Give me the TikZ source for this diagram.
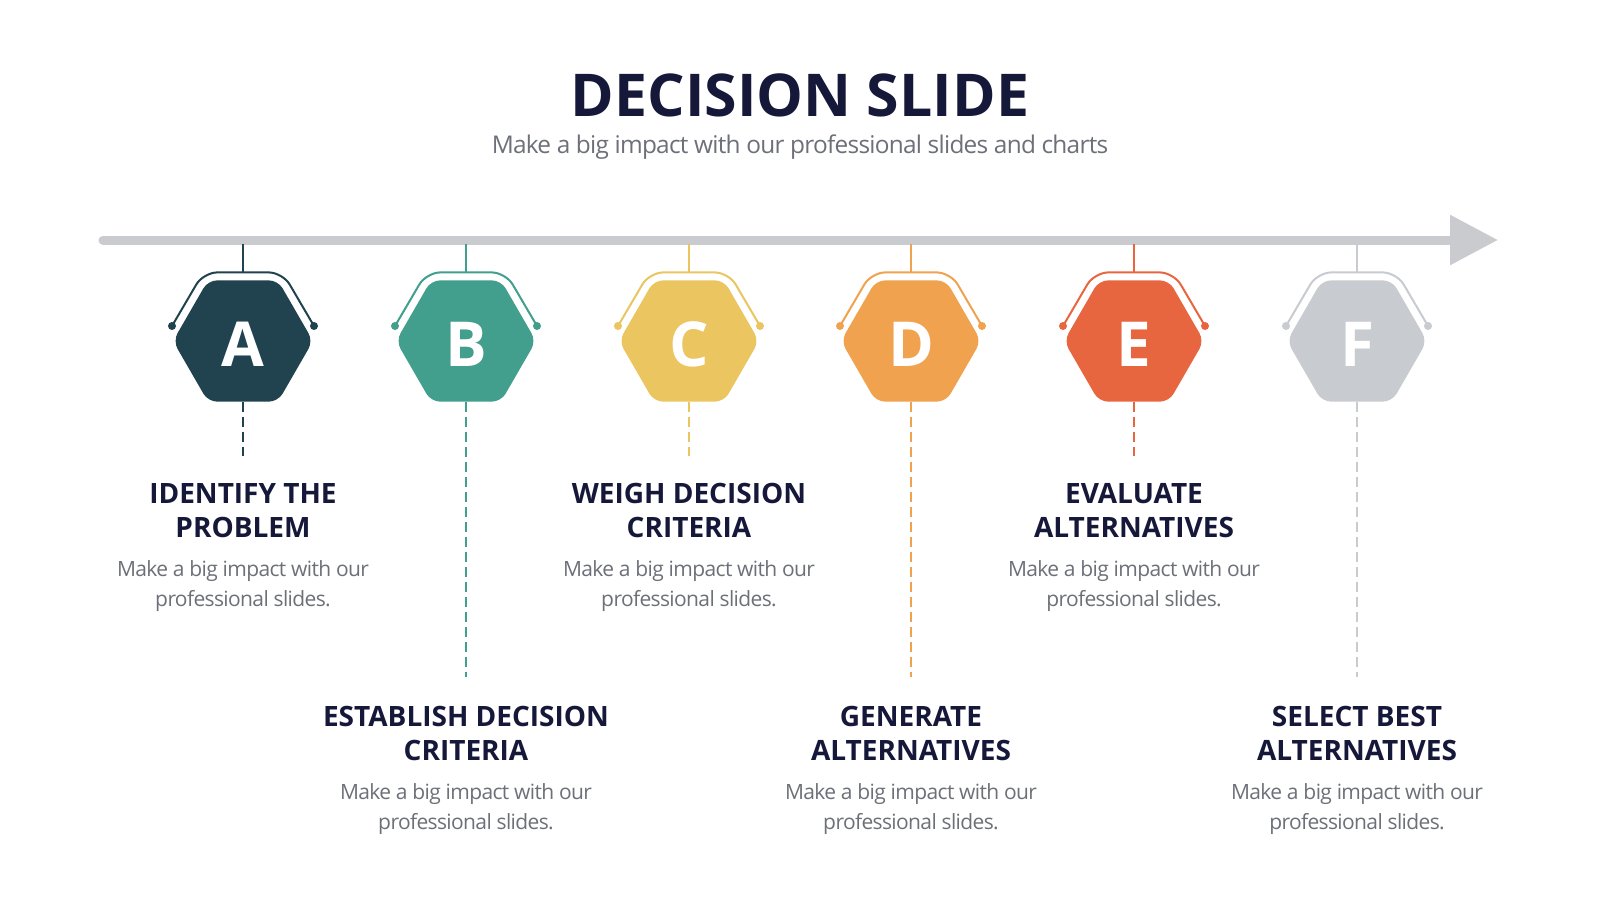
\documentclass[tikz,border=0pt]{standalone}
\usepackage{fontspec}
\setmainfont{Open Sans}
\newfontfamily\tightfont{Open Sans}[LetterSpace=-3]
\usetikzlibrary{shapes.geometric,calc,arrows.meta}

\definecolor{navy}{HTML}{16183A}
\definecolor{greytext}{HTML}{6E7079}
\definecolor{axisgrey}{HTML}{C9CBCE}
\definecolor{colA}{HTML}{21424F}
\definecolor{colB}{HTML}{429E8D}
\definecolor{colC}{HTML}{EAC560}
\definecolor{colD}{HTML}{F0A24F}
\definecolor{colE}{HTML}{E8663F}
\definecolor{colF}{HTML}{C8CBCF}

\tikzset{
  hexa/.style={regular polygon, regular polygon sides=6, minimum size=140pt,
    inner sep=0pt, outer sep=0pt, rounded corners=9pt, fill=#1, text=white,
    text height=50pt, text depth=0pt,
    font=\bfseries\fontsize{62}{62}\selectfont},
  handle/.style={draw=#1, line width=2pt, rounded corners=14pt},
  stem/.style={draw=#1, line width=1.6pt},
  dashstem/.style={draw=#1, line width=1.6pt, dash pattern=on 10pt off 5pt},
  steptitle/.style={text=navy, font=\bfseries\fontsize{28}{34}\selectfont, align=center, anchor=base},
  stepbody/.style={text=greytext, font=\tightfont\fontsize{21}{30}\selectfont, align=center, anchor=base},
}

\begin{document}
\begin{tikzpicture}[x=1pt,y=-1pt]
\fill[white] (0,0) rectangle (1600,900);
\useasboundingbox (0,0) rectangle (1600,900);

\node[text=navy, font=\bfseries\fontsize{59}{59}\selectfont, anchor=base] (title) at (800,116) {DECISION SLIDE};
\node[text=greytext, font=\tightfont\fontsize{24.4}{30}\selectfont, anchor=base] (subtitle) at (800,153) {Make a big impact with our professional slides and charts};

% time axis
\coordinate (axstart) at (103,240);
\coordinate (axend) at (1498,240);
\draw[axisgrey, line width=9pt, line cap=round, -{Triangle[length=48pt,width=48pt]}] (axstart) -- (axend);

% hexagon markers
\foreach \l/\c/\x/\e in {A/colA/243/456, B/colB/466/677, C/colC/689/456,
                         D/colD/911/677, E/colE/1134/456, F/colF/1357/677}{
  \node[hexa=\c] (hex\l) at (\x,341) {\l};
  \coordinate (ax\l) at (\x,244);
  \coordinate (top\l) at ($(hex\l)+(0,-68.6)$);
  \coordinate (end\l) at (\x,\e);
  \draw[handle=\c] ($(hex\l)+(-71,-15)$) -- ($(hex\l)+(-39.6,-68.6)$) -- ($(hex\l)+(39.6,-68.6)$) -- ($(hex\l)+(71,-15)$);
  \fill[\c] ($(hex\l)+(-71,-15)$) circle (4) ($(hex\l)+(71,-15)$) circle (4);
  \draw[stem=\c] (ax\l) -- (top\l);
  \draw[dashstem=\c] (hex\l.south) -- (end\l);
}

% upper texts (base = last line)
\node[steptitle] (tA) at (243,537) {IDENTIFY THE\\PROBLEM};
\node[stepbody] (bA) at (243,606) {Make a big impact with our\\professional slides.};
\node[steptitle] (tC) at (689,537) {WEIGH DECISION\\CRITERIA};
\node[stepbody] (bC) at (689,606) {Make a big impact with our\\professional slides.};
\node[steptitle] (tE) at (1134,537) {EVALUATE\\ALTERNATIVES};
\node[stepbody] (bE) at (1134,606) {Make a big impact with our\\professional slides.};

% lower texts
\node[steptitle] (tB) at (466,760) {ESTABLISH DECISION\\CRITERIA};
\node[stepbody] (bB) at (466,829) {Make a big impact with our\\professional slides.};
\node[steptitle] (tD) at (911,760) {GENERATE\\ALTERNATIVES};
\node[stepbody] (bD) at (911,829) {Make a big impact with our\\professional slides.};
\node[steptitle] (tF) at (1357,760) {SELECT BEST\\ALTERNATIVES};
\node[stepbody] (bF) at (1357,829) {Make a big impact with our\\professional slides.};
\end{tikzpicture}
\end{document}
